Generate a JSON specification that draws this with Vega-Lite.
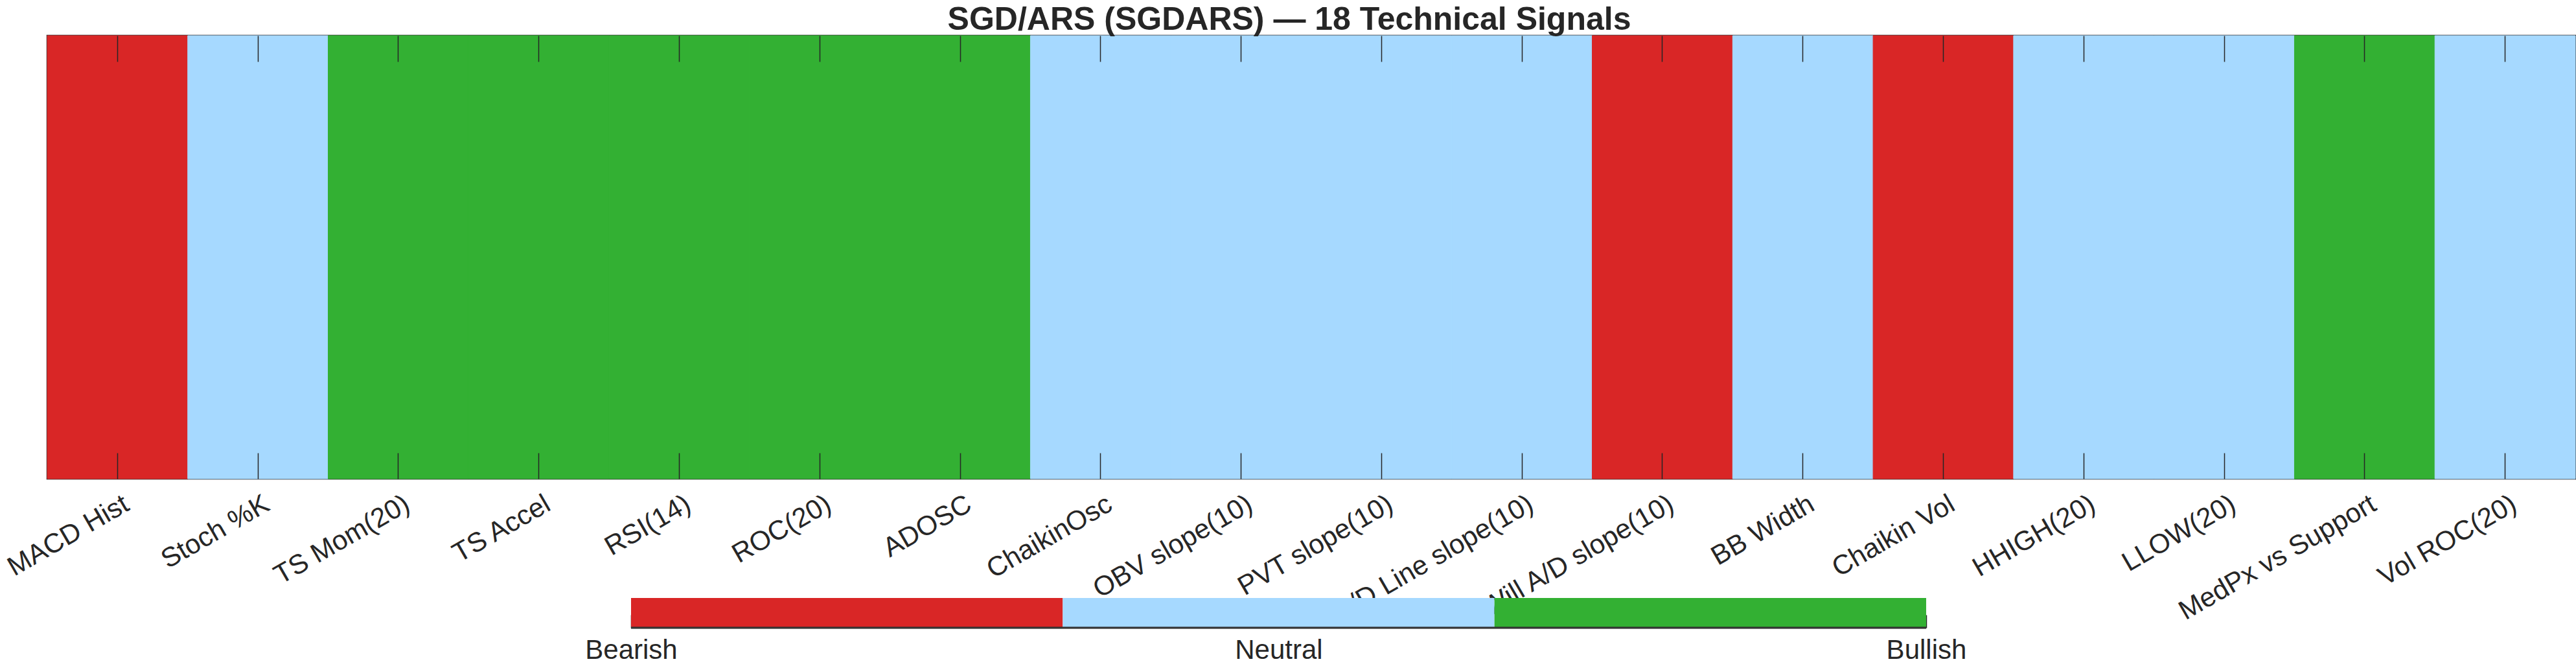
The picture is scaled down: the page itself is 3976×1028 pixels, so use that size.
{
  "$schema": "https://vega.github.io/schema/vega-lite/v6.json",
  "background": "white",
  "padding": {"left": 3, "top": 6, "right": 0, "bottom": 0},
  "title": {"text": "SGD/ARS (SGDARS) — 18 Technical Signals", "fontSize": 50, "font": "Liberation Sans", "fontWeight": "bold", "color": "#262626", "offset": -3, "anchor": "middle"},
  "config": {"font": "Liberation Sans", "view": {"stroke": null}},
  "bounds": "flush",
  "spacing": 184,
  "vconcat": [
    {
      "width": 3902,
      "height": 684,
      "view": {"stroke": "#333333", "strokeWidth": 2.5},
      "data": {"values": [
        {"signal": "MACD Hist", "state": "Bearish"},
        {"signal": "Stoch %K", "state": "Neutral"},
        {"signal": "TS Mom(20)", "state": "Bullish"},
        {"signal": "TS Accel", "state": "Bullish"},
        {"signal": "RSI(14)", "state": "Bullish"},
        {"signal": "ROC(20)", "state": "Bullish"},
        {"signal": "ADOSC", "state": "Bullish"},
        {"signal": "ChaikinOsc", "state": "Neutral"},
        {"signal": "OBV slope(10)", "state": "Neutral"},
        {"signal": "PVT slope(10)", "state": "Neutral"},
        {"signal": "A/D Line slope(10)", "state": "Neutral"},
        {"signal": "Will A/D slope(10)", "state": "Bearish"},
        {"signal": "BB Width", "state": "Neutral"},
        {"signal": "Chaikin Vol", "state": "Bearish"},
        {"signal": "HHIGH(20)", "state": "Neutral"},
        {"signal": "LLOW(20)", "state": "Neutral"},
        {"signal": "MedPx vs Support", "state": "Bullish"},
        {"signal": "Vol ROC(20)", "state": "Neutral"}
      ]},
      "layer": [
        {
          "mark": {"type": "rect", "strokeWidth": 1},
          "encoding": {
            "x": {
              "field": "signal", "type": "nominal",
              "sort": ["MACD Hist", "Stoch %K", "TS Mom(20)", "TS Accel", "RSI(14)", "ROC(20)", "ADOSC", "ChaikinOsc", "OBV slope(10)", "PVT slope(10)", "A/D Line slope(10)", "Will A/D slope(10)", "BB Width", "Chaikin Vol", "HHIGH(20)", "LLOW(20)", "MedPx vs Support", "Vol ROC(20)"],
              "scale": {"paddingInner": 0, "paddingOuter": 0},
              "axis": {
                "orient": "bottom", "title": null, "domain": false, "grid": false,
                "tickSize": -40, "tickColor": "#262626", "tickWidth": 1.5,
                "labelAngle": -30, "labelAlign": "right", "labelBaseline": "top",
                "labelFontSize": 42, "labelColor": "#262626", "labelPadding": 58,
                "labelOffset": 4, "labelLimit": 0, "labelOverlap": false
              }
            },
            "y": {"datum": 0, "type": "quantitative", "scale": {"domain": [0, 1]}, "axis": null},
            "y2": {"datum": 1},
            "color": {
              "field": "state", "type": "nominal",
              "scale": {"domain": ["Bearish", "Neutral", "Bullish"], "range": ["#d92626", "#a6d9ff", "#33b033"]},
              "legend": null
            },
            "stroke": {
              "field": "state", "type": "nominal",
              "scale": {"domain": ["Bearish", "Neutral", "Bullish"], "range": ["#d92626", "#a6d9ff", "#33b033"]},
              "legend": null
            }
          }
        },
        {
          "mark": {"type": "rect", "opacity": 0},
          "encoding": {
            "x": {
              "field": "signal", "type": "nominal",
              "sort": ["MACD Hist", "Stoch %K", "TS Mom(20)", "TS Accel", "RSI(14)", "ROC(20)", "ADOSC", "ChaikinOsc", "OBV slope(10)", "PVT slope(10)", "A/D Line slope(10)", "Will A/D slope(10)", "BB Width", "Chaikin Vol", "HHIGH(20)", "LLOW(20)", "MedPx vs Support", "Vol ROC(20)"],
              "axis": {
                "orient": "top", "title": null, "domain": false, "grid": false, "labels": false,
                "tickSize": -40, "tickColor": "#262626", "tickWidth": 1.5
              }
            },
            "y": {"datum": 0, "type": "quantitative"},
            "y2": {"datum": 1}
          }
        }
      ],
      "resolve": {"axis": {"x": "independent"}}
    },
    {
      "width": 3902,
      "height": 46,
      "data": {"values": [
        {"state": "Bearish", "start": 0, "end": 1},
        {"state": "Neutral", "start": 1, "end": 2},
        {"state": "Bullish", "start": 2, "end": 3}
      ]},
      "layer": [
        {
          "mark": {"type": "rect"},
          "encoding": {
            "x": {
              "field": "start", "type": "quantitative",
              "scale": {"domain": [-1.3522, 4.5038], "nice": false, "zero": false},
              "axis": {
                "title": null, "domain": false, "grid": false,
                "values": [0, 1.5, 3],
                "labelExpr": "datum.value == 0 ? 'Bearish' : (datum.value == 3 ? 'Bullish' : 'Neutral')",
                "tickSize": -20, "tickColor": "#262626", "tickWidth": 1.5,
                "labelFontSize": 42, "labelColor": "#262626", "labelPadding": 34,
                "labelFlush": false, "labelOverlap": false
              }
            },
            "x2": {"field": "end"},
            "y": {"datum": 0, "type": "quantitative", "scale": {"domain": [0, 1]}, "axis": null},
            "y2": {"datum": 1},
            "color": {
              "field": "state", "type": "nominal",
              "scale": {"domain": ["Bearish", "Neutral", "Bullish"], "range": ["#d92626", "#a6d9ff", "#33b033"]},
              "legend": null
            }
          }
        },
        {
          "mark": {"type": "rule", "color": "#333333", "strokeWidth": 2.5},
          "encoding": {
            "x": {"datum": 0},
            "x2": {"datum": 3},
            "y": {"datum": 0, "type": "quantitative"}
          }
        }
      ]
    }
  ]
}
